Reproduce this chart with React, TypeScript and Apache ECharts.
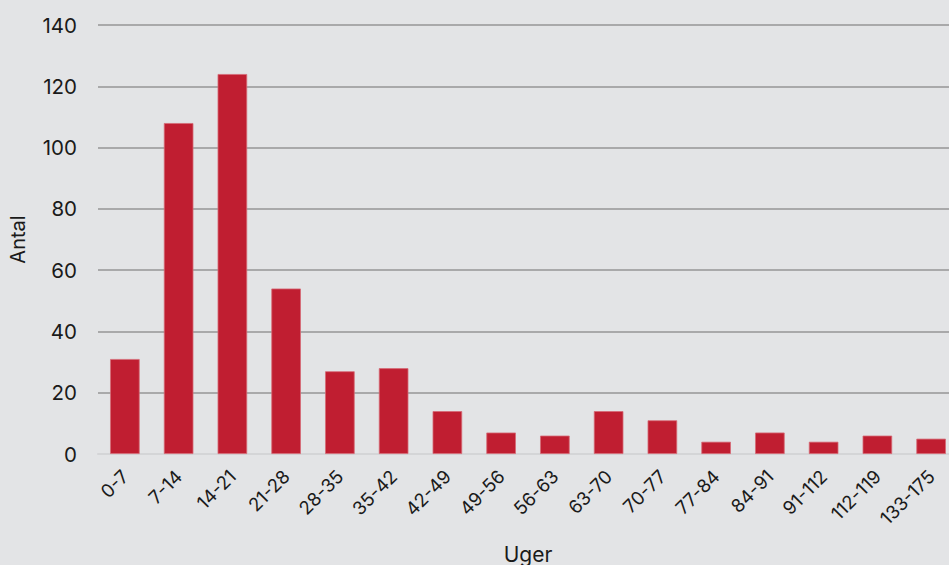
import React, { useEffect, useRef } from "react";
import * as echarts from "echarts";

const categories = [
  "0-7", "7-14", "14-21", "21-28", "28-35", "35-42", "42-49", "49-56",
  "56-63", "63-70", "70-77", "77-84", "84-91", "91-112", "112-119", "133-175",
];
const counts = [31, 108, 124, 54, 27, 28, 14, 7, 6, 14, 11, 4, 7, 4, 6, 5];
const yTicks = { min: 0, max: 140, interval: 20 };

const FONT = "Inter, 'Noto Sans', sans-serif";

export default function App() {
  const ref = useRef<HTMLDivElement>(null);

  useEffect(() => {
    if (!ref.current) return;
    const chart = echarts.init(ref.current, undefined, { renderer: "svg" });
    chart.setOption({
      animation: false,
      backgroundColor: "#e3e4e6",
      textStyle: { fontFamily: FONT },
      grid: {
        left: 98,
        width: 860,
        top: 25,
        height: 429,
        containLabel: false,
        outerBoundsMode: "none",
      },
      xAxis: {
        type: "category",
        data: categories,
        name: "Uger",
        nameLocation: "middle",
        nameGap: 90,
        nameTextStyle: { fontSize: 21, color: "#1a1a1a", fontFamily: FONT },
        axisLine: { show: true, lineStyle: { color: "#d4d5d7", width: 2 } },
        axisTick: { show: false },
        axisLabel: {
          rotate: 45,
          margin: 19,
          fontSize: 18.5,
          color: "#1a1a1a",
          fontFamily: FONT,
          interval: 0,
        },
      },
      yAxis: {
        type: "value",
        min: yTicks.min,
        max: yTicks.max,
        interval: yTicks.interval,
        name: "Antal",
        nameLocation: "middle",
        nameGap: 70,
        nameTextStyle: { fontSize: 20, color: "#1a1a1a", fontFamily: FONT },
        axisLine: { show: false },
        axisTick: { show: false },
        axisLabel: { fontSize: 20.5, color: "#1a1a1a", margin: 21, fontFamily: FONT },
        splitLine: { lineStyle: { color: "#a9a9aa", width: 2 } },
      },
      series: [
        {
          type: "bar",
          data: counts,
          barWidth: "55%",
          itemStyle: { color: "#c01e31", borderColor: "#d66a76", borderWidth: 0.8 },
        },
      ],
    });
    return () => chart.dispose();
  }, []);

  return <div ref={ref} style={{ width: 949, height: 565, position: "absolute", left: 0, top: 0 }} />;
}
